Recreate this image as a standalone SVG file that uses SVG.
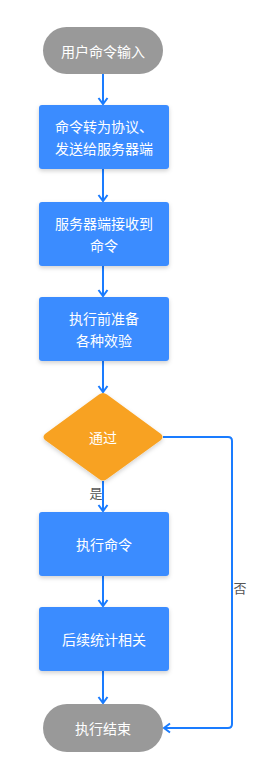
<svg xmlns="http://www.w3.org/2000/svg" width="277" height="777" viewBox="0 0 277 777">
<style>
.t{font-family:"Noto Sans CJK SC","Noto Sans",sans-serif;font-size:14px;fill:#ffffff;text-anchor:middle;dominant-baseline:central}
.l{font-family:"Noto Sans CJK SC","Noto Sans",sans-serif;font-size:13px;fill:#555555;text-anchor:middle;dominant-baseline:central}
.box{fill:#3a8cff;filter:url(#sh)}
.term{fill:#999999}
.c{fill:none;stroke:#1a7cff;stroke-width:2;marker-end:url(#ah)}
</style>
<defs>
<filter id="sh" x="-20%" y="-20%" width="140%" height="150%">
<feDropShadow dx="0" dy="2" stdDeviation="2" flood-color="#000" flood-opacity="0.18"/>
</filter>
<marker id="ah" markerWidth="12" markerHeight="12" refX="9" refY="6" orient="auto" markerUnits="userSpaceOnUse">
<path d="M3,1.5 L9,6 L3,10.5" fill="none" stroke="#1a7cff" stroke-width="2"/>
</marker>
</defs>
<g id="connectors">
<path class="c" d="M103,74 V104"/>
<path class="c" d="M103,169 V201"/>
<path class="c" d="M103,266 V296"/>
<path class="c" d="M103,361 V392"/>
<path class="c" d="M103,481 V511"/>
<path class="c" d="M103,576 V606"/>
<path class="c" d="M103,671 V703"/>
<path class="c" d="M163,437 H228 Q232,437 232,441 V724 Q232,728 228,728 H164"/>
<text class="l" x="96" y="492">是</text>
<text class="l" x="240" y="587">否</text>
</g>
<g id="start"><rect class="term" x="43" y="27" width="120" height="47" rx="23.5"/><text class="t" x="103" y="50.5">用户命令输入</text></g>
<g id="n1"><rect class="box" x="39" y="105" width="130" height="64" rx="3"/><text class="t" x="104" y="126">命令转为协议、</text><text class="t" x="104" y="148">发送给服务器端</text></g>
<g id="n2"><rect class="box" x="39" y="202" width="130" height="64" rx="3"/><text class="t" x="104" y="223">服务器端接收到</text><text class="t" x="104" y="245">命令</text></g>
<g id="n3"><rect class="box" x="39" y="297" width="130" height="64" rx="3"/><text class="t" x="104" y="318">执行前准备</text><text class="t" x="104" y="340">各种效验</text></g>
<g id="d1"><path d="M103,393 Q105,393 107,394.5 L161,434 Q164,437 161,440 L107,479 Q103,482 99,479 L45,440 Q42,437 45,434 L99,394.5 Q101,393 103,393 Z" fill="#f8a222" filter="url(#sh)"/><text class="t" x="103" y="437">通过</text></g>
<g id="n4"><rect class="box" x="39" y="512" width="130" height="64" rx="3"/><text class="t" x="104" y="544">执行命令</text></g>
<g id="n5"><rect class="box" x="39" y="607" width="130" height="64" rx="3"/><text class="t" x="104" y="639">后续统计相关</text></g>
<g id="end"><rect class="term" x="43" y="704" width="120" height="48" rx="24"/><text class="t" x="103" y="728">执行结束</text></g>
</svg>
